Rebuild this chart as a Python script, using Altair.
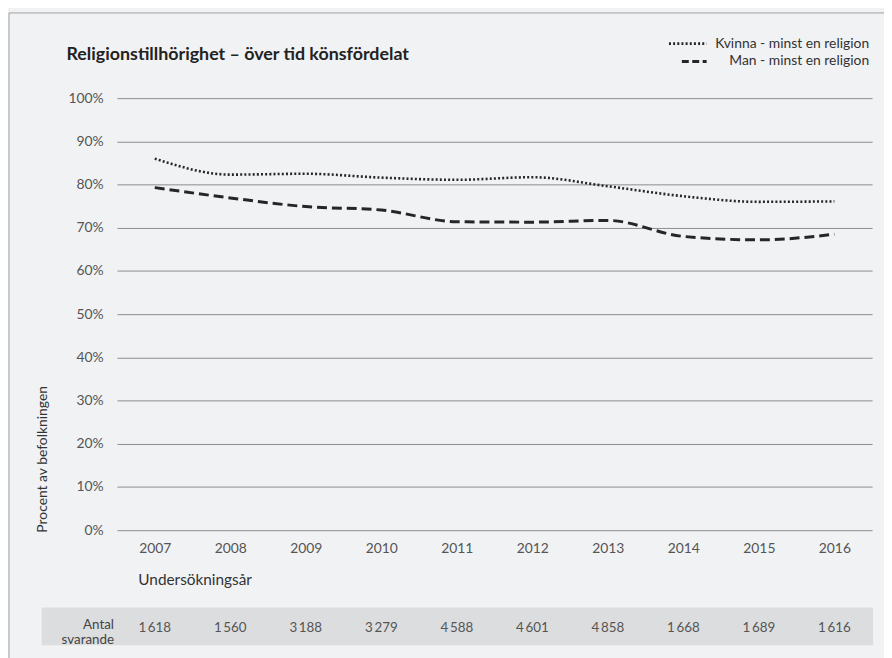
import altair as alt
import pandas as pd

# ---- data ----
years = ["2007", "2008", "2009", "2010", "2011", "2012", "2013", "2014", "2015", "2016"]
kvinna = [86.0, 82.3, 82.5, 81.6, 81.1, 81.7, 79.6, 77.3, 76.0, 76.1]
man = [79.3, 76.9, 74.9, 74.1, 71.4, 71.3, 71.7, 68.0, 67.2, 68.5]
antal = [1618, 1560, 3188, 3279, 4588, 4601, 4858, 1668, 1689, 1616]
y_ticks = [0, 10, 20, 30, 40, 50, 60, 70, 80, 90, 100]
series_names = ["Kvinna - minst en religion", "Man - minst en religion"]
title_text = "Religionstillhörighet – över tid könsfördelat"
x_title = "Undersökningsår"
y_title = "Procent av befolkningen"
count_title = ["Antal", "svarande"]

FONT = "Lato"
INK = "#262626"
W, H = 762, 436

df = pd.DataFrame({
    "year": years * 2,
    "value": kvinna + man,
    "series": [series_names[0]] * len(years) + [series_names[1]] * len(years),
})
counts = pd.DataFrame({
    "year": years,
    "label": [f"{n:,}".replace(",", "\u2009") for n in antal],
})
one = pd.DataFrame({"k": [0]})

x_enc = alt.X(
    "year:O",
    scale=alt.Scale(type="point", padding=0.5),
    axis=alt.Axis(
        title=x_title, labelAngle=0, domain=False, ticks=False, grid=False,
        labelPadding=12, labelFontSize=14, labelColor="#555", labelFont=FONT,
        titleFont=FONT, titleFontSize=15.5, titleFontWeight="normal", titleColor="#333",
        titleX=21, titleY=50, titleAlign="left", titleBaseline="middle",
    ),
)
y_enc = alt.Y(
    "value:Q",
    scale=alt.Scale(domain=[0, 100], nice=False),
    axis=alt.Axis(
        values=y_ticks, labelExpr="datum.value + '%'", title=y_title,
        domain=False, ticks=False, grid=True, gridColor="#8c8c8c", gridWidth=1,
        labelPadding=14, labelFontSize=14, labelColor="#555", labelFont=FONT,
        titleFont=FONT, titleFontSize=14, titleFontWeight="normal", titleColor="#333",
        titleAngle=270, titleX=-75, titleY=438, titleAlign="left", titleBaseline="middle",
    ),
)

band = alt.Chart(one).mark_rect(color="#dcdddf").encode(
    x=alt.value(-76), x2=alt.value(763), y=alt.value(514), y2=alt.value(552)
)

kv_line = alt.Chart(df).transform_filter(alt.datum.series == series_names[0]).mark_line(
    interpolate="monotone", strokeDash=[2, 2.2], strokeWidth=2.6, color=INK
).encode(x=x_enc, y=y_enc)

man_line = alt.Chart(df).transform_filter(alt.datum.series == series_names[1]).mark_line(
    interpolate="monotone", strokeDash=[10, 5], strokeWidth=3, color=INK
).encode(x=x_enc, y=y_enc)

count_text = alt.Chart(counts).mark_text(
    font=FONT, fontSize=13.5, color="#555", baseline="middle"
).encode(x=x_enc, y=alt.value(535), text="label:N")

antal_text = alt.Chart(one).mark_text(
    text=count_title, font=FONT, fontSize=13.5, color="#444", align="right",
    baseline="middle", lineHeight=15
).encode(x=alt.value(-3), y=alt.value(532))

leg_kv_sym = alt.Chart(one).mark_rule(strokeDash=[2, 2.2], strokeWidth=2.6, color=INK).encode(
    x=alt.value(557), x2=alt.value(595), y=alt.value(-55)
)
leg_man_sym = alt.Chart(one).mark_rule(strokeDash=[7, 3.5], strokeWidth=3, color=INK).encode(
    x=alt.value(570), x2=alt.value(595), y=alt.value(-37)
)
leg_kv_text = alt.Chart(one).mark_text(
    text=series_names[0], font=FONT, fontSize=14, color="#333", align="right", baseline="middle"
).encode(x=alt.value(759), y=alt.value(-55))
leg_man_text = alt.Chart(one).mark_text(
    text=series_names[1], font=FONT, fontSize=14, color="#333", align="right", baseline="middle"
).encode(x=alt.value(759), y=alt.value(-37))

title_mark = alt.Chart(one).mark_text(
    text=title_text, font=FONT, fontSize=18, fontWeight="bold", color="#222",
    align="left", baseline="middle"
).encode(x=alt.value(-51), y=alt.value(-43))

border = alt.Chart(one).mark_rect(fillOpacity=0, stroke="#a0a0a0", strokeWidth=1).encode(
    x=alt.value(-109), x2=alt.value(800), y=alt.value(-86), y2=alt.value(600)
)

chart = alt.layer(
    band, kv_line, man_line, count_text, antal_text,
    leg_kv_sym, leg_man_sym, leg_kv_text, leg_man_text, title_mark, border
).properties(
    width=W, height=H,
    autosize=alt.AutoSizeParams(type="none"),
    padding={"left": 110, "top": 88, "right": 12, "bottom": 126},
).configure(background="#f1f2f4", font=FONT).configure_view(strokeWidth=0)

chart.save("out.html", embed_options={"renderer": "svg", "actions": False})
